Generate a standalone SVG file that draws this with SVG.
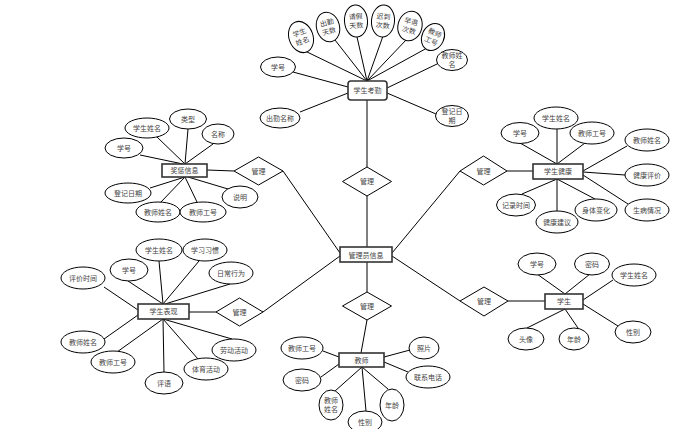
<svg xmlns="http://www.w3.org/2000/svg" width="694" height="429" viewBox="0 0 694 429">
<style>
.e{fill:#fff;stroke:#000;stroke-width:1}
.r{fill:#fff;stroke:#333;stroke-width:1.6}
.d{fill:#fff;stroke:#000;stroke-width:1}
.t{font-family:"Noto Sans CJK SC","Noto Sans",sans-serif;font-size:7px;fill:#444;text-anchor:middle}
.c line{stroke:#000;stroke-width:1}
</style>
<rect width="694" height="429" fill="#fff"/>
<g class="c" id="connectors">
<line x1="305" y1="51" x2="367" y2="81"/>
<line x1="335" y1="40" x2="367" y2="81"/>
<line x1="357" y1="37" x2="367" y2="81"/>
<line x1="383" y1="36" x2="367" y2="81"/>
<line x1="407" y1="39" x2="367" y2="81"/>
<line x1="427" y1="48" x2="367" y2="81"/>
<line x1="293" y1="72" x2="348" y2="87"/>
<line x1="300" y1="112" x2="348" y2="93"/>
<line x1="437" y1="64" x2="387" y2="88"/>
<line x1="436" y1="114" x2="387" y2="93"/>
<line x1="367" y1="100" x2="367" y2="167"/>
<line x1="367" y1="196" x2="367" y2="247"/>
<line x1="367" y1="262" x2="367" y2="292"/>
<line x1="283" y1="171" x2="340" y2="253"/>
<line x1="263" y1="312" x2="340" y2="256"/>
<line x1="460" y1="171" x2="392" y2="253"/>
<line x1="460" y1="301" x2="392" y2="256"/>
<line x1="367" y1="320" x2="361" y2="353"/>
<line x1="140" y1="155" x2="183" y2="164"/>
<line x1="157" y1="137" x2="185" y2="164"/>
<line x1="188" y1="129" x2="185" y2="164"/>
<line x1="213" y1="144" x2="185" y2="164"/>
<line x1="150" y1="188" x2="185" y2="177"/>
<line x1="160" y1="203" x2="185" y2="177"/>
<line x1="197" y1="202" x2="185" y2="177"/>
<line x1="228" y1="189" x2="188" y2="177"/>
<line x1="207" y1="170" x2="234" y2="171"/>
<line x1="520" y1="143" x2="557" y2="164"/>
<line x1="557" y1="129" x2="557" y2="164"/>
<line x1="585" y1="143" x2="557" y2="164"/>
<line x1="627" y1="146" x2="583" y2="171"/>
<line x1="625" y1="175" x2="583" y2="172"/>
<line x1="628" y1="204" x2="583" y2="175"/>
<line x1="522" y1="194" x2="557" y2="179"/>
<line x1="557" y1="179" x2="557" y2="211"/>
<line x1="595" y1="199" x2="557" y2="179"/>
<line x1="507" y1="171" x2="533" y2="171"/>
<line x1="159" y1="261" x2="163" y2="304"/>
<line x1="199" y1="261" x2="163" y2="304"/>
<line x1="128" y1="281" x2="163" y2="304"/>
<line x1="230" y1="284" x2="165" y2="304"/>
<line x1="104" y1="287" x2="138" y2="310"/>
<line x1="104" y1="339" x2="138" y2="315"/>
<line x1="117" y1="352" x2="163" y2="319"/>
<line x1="163" y1="319" x2="164" y2="372"/>
<line x1="198" y1="359" x2="163" y2="319"/>
<line x1="232" y1="339" x2="163" y2="319"/>
<line x1="189" y1="312" x2="216" y2="312"/>
<line x1="537" y1="274" x2="565" y2="294"/>
<line x1="590" y1="274" x2="565" y2="294"/>
<line x1="613" y1="280" x2="583" y2="300"/>
<line x1="618" y1="326" x2="583" y2="304"/>
<line x1="527" y1="328" x2="565" y2="309"/>
<line x1="578" y1="328" x2="565" y2="309"/>
<line x1="508" y1="301" x2="545" y2="301"/>
<line x1="323" y1="351" x2="339" y2="357"/>
<line x1="321" y1="377" x2="339" y2="364"/>
<line x1="335" y1="391" x2="362" y2="367"/>
<line x1="366" y1="411" x2="362" y2="367"/>
<line x1="388" y1="389" x2="362" y2="367"/>
<line x1="410" y1="350" x2="384" y2="357"/>
<line x1="408" y1="372" x2="384" y2="362"/>
</g>

<!-- central entity -->
<g id="admin"><rect class="r" x="340" y="247" width="52" height="15"/><text class="t" x="366" y="257.5">管理员信息</text></g>
<g id="rel-top"><polygon class="d" points="367,167 391.5,181.5 367,196 342.5,181.5"/><text class="t" x="367" y="184">管理</text></g>
<g id="rel-bottom"><polygon class="d" points="367,292 391.5,306 367,320 342.5,306"/><text class="t" x="367" y="308.5">管理</text></g>
<g id="rel-left-top"><polygon class="d" points="258.5,157 283,171 258.5,185 234,171"/><text class="t" x="258.5" y="173.5">管理</text></g>
<g id="rel-left-bottom"><polygon class="d" points="239.5,298 263,312 239.5,326 216,312"/><text class="t" x="239.5" y="314.5">管理</text></g>
<g id="rel-right-top"><polygon class="d" points="483.5,156 507,171 483.5,185 460,171"/><text class="t" x="483.5" y="173.5">管理</text></g>
<g id="rel-right-bottom"><polygon class="d" points="484,287 508,301 484,316 460,301"/><text class="t" x="484" y="303.5">管理</text></g>

<!-- 学生考勤 -->
<g id="attendance"><rect class="r" x="348" y="81" width="39" height="19" rx="3"/><text class="t" x="367.5" y="93">学生考勤</text></g>
<g id="att-name" transform="translate(301,37) rotate(-20)"><ellipse class="e" rx="12" ry="16"/><text class="t" y="-2">学生</text><text class="t" y="7">姓名</text></g>
<g id="att-days" transform="translate(328,27) rotate(-15)"><ellipse class="e" rx="11.5" ry="15"/><text class="t" y="-2">出勤</text><text class="t" y="7">天数</text></g>
<g id="att-leave" transform="translate(356,21) rotate(-4)"><ellipse class="e" rx="11.5" ry="16"/><text class="t" y="-2">请假</text><text class="t" y="7">天数</text></g>
<g id="att-late" transform="translate(383,21) rotate(5)"><ellipse class="e" rx="11.5" ry="16"/><text class="t" y="-2">迟到</text><text class="t" y="7">次数</text></g>
<g id="att-early" transform="translate(410,26) rotate(15)"><ellipse class="e" rx="12" ry="15"/><text class="t" y="-2">早退</text><text class="t" y="7">次数</text></g>
<g id="att-tno" transform="translate(433,37) rotate(25)"><ellipse class="e" rx="11" ry="14"/><text class="t" y="-2">教师</text><text class="t" y="7">工号</text></g>
<g id="att-sno"><ellipse class="e" cx="278" cy="67" rx="17.5" ry="10"/><text class="t" x="278" y="69.5">学号</text></g>
<g id="att-title"><ellipse class="e" cx="280" cy="118" rx="20" ry="10"/><text class="t" x="280" y="120.5">出勤名称</text></g>
<g id="att-tname"><ellipse class="e" cx="452" cy="60" rx="15.5" ry="10.5"/><text class="t" x="452" y="58">教师姓</text><text class="t" x="452" y="67">名</text></g>
<g id="att-date"><ellipse class="e" cx="452" cy="116" rx="16.5" ry="10.5"/><text class="t" x="452" y="114">登记日</text><text class="t" x="452" y="123">期</text></g>

<!-- 奖惩信息 -->
<g id="reward"><rect class="r" x="162" y="164" width="45" height="13"/><text class="t" x="184.5" y="173">奖惩信息</text></g>
<g id="rw-name"><ellipse class="e" cx="147" cy="128" rx="22" ry="10"/><text class="t" x="147" y="130.5">学生姓名</text></g>
<g id="rw-type"><ellipse class="e" cx="188" cy="119" rx="18.5" ry="10"/><text class="t" x="188" y="121.5">类型</text></g>
<g id="rw-title"><ellipse class="e" cx="218" cy="134" rx="16" ry="10"/><text class="t" x="218" y="136.5">名称</text></g>
<g id="rw-sno"><ellipse class="e" cx="124" cy="148" rx="19" ry="10"/><text class="t" x="124" y="150.5">学号</text></g>
<g id="rw-date"><ellipse class="e" cx="128" cy="193" rx="23" ry="10"/><text class="t" x="128" y="195.5">登记日期</text></g>
<g id="rw-tname"><ellipse class="e" cx="158" cy="212" rx="22" ry="10"/><text class="t" x="158" y="214.5">教师姓名</text></g>
<g id="rw-tno"><ellipse class="e" cx="203" cy="212" rx="23" ry="10"/><text class="t" x="203" y="214.5">教师工号</text></g>
<g id="rw-desc"><ellipse class="e" cx="240" cy="197" rx="18" ry="11"/><text class="t" x="240" y="199.5">说明</text></g>

<!-- 学生健康 -->
<g id="health"><rect class="r" x="533" y="164" width="50" height="15"/><text class="t" x="558" y="174">学生健康</text></g>
<g id="h-sno"><ellipse class="e" cx="520" cy="133" rx="19" ry="10.5"/><text class="t" x="520" y="135.5">学号</text></g>
<g id="h-name"><ellipse class="e" cx="556" cy="118" rx="22" ry="11"/><text class="t" x="556" y="120.5">学生姓名</text></g>
<g id="h-tno"><ellipse class="e" cx="592" cy="133" rx="22" ry="11"/><text class="t" x="592" y="135.5">教师工号</text></g>
<g id="h-tname"><ellipse class="e" cx="647" cy="140" rx="22" ry="11"/><text class="t" x="647" y="142.5">教师姓名</text></g>
<g id="h-eval"><ellipse class="e" cx="647" cy="175" rx="22" ry="11"/><text class="t" x="647" y="177.5">健康评价</text></g>
<g id="h-sick"><ellipse class="e" cx="647" cy="210" rx="22" ry="11"/><text class="t" x="647" y="212.5">生病情况</text></g>
<g id="h-time"><ellipse class="e" cx="516" cy="205" rx="19.5" ry="11"/><text class="t" x="516" y="207.5">记录时间</text></g>
<g id="h-advice"><ellipse class="e" cx="557" cy="222" rx="21" ry="11"/><text class="t" x="557" y="224.5">健康建议</text></g>
<g id="h-change"><ellipse class="e" cx="596" cy="210" rx="21" ry="11"/><text class="t" x="596" y="212.5">身体变化</text></g>

<!-- 学生表现 -->
<g id="perf"><rect class="r" x="138" y="304" width="51" height="15"/><text class="t" x="163.5" y="314">学生表现</text></g>
<g id="p-name"><ellipse class="e" cx="159" cy="250" rx="23" ry="11"/><text class="t" x="159" y="252.5">学生姓名</text></g>
<g id="p-habit"><ellipse class="e" cx="205" cy="250" rx="22" ry="11"/><text class="t" x="205" y="252.5">学习习惯</text></g>
<g id="p-sno"><ellipse class="e" cx="129" cy="270" rx="19" ry="11"/><text class="t" x="129" y="272.5">学号</text></g>
<g id="p-daily"><ellipse class="e" cx="231" cy="273" rx="22" ry="11"/><text class="t" x="231" y="275.5">日常行为</text></g>
<g id="p-time"><ellipse class="e" cx="83" cy="278" rx="22" ry="11"/><text class="t" x="83" y="280.5">评价时间</text></g>
<g id="p-tname"><ellipse class="e" cx="83" cy="342" rx="22" ry="11"/><text class="t" x="83" y="344.5">教师姓名</text></g>
<g id="p-tno"><ellipse class="e" cx="113" cy="362" rx="22" ry="11"/><text class="t" x="113" y="364.5">教师工号</text></g>
<g id="p-comment"><ellipse class="e" cx="164" cy="383" rx="19" ry="11"/><text class="t" x="164" y="385.5">评语</text></g>
<g id="p-sport"><ellipse class="e" cx="206" cy="369" rx="22" ry="11"/><text class="t" x="206" y="371.5">体育活动</text></g>
<g id="p-labor"><ellipse class="e" cx="234" cy="350" rx="22" ry="11"/><text class="t" x="234" y="352.5">劳动活动</text></g>

<!-- 学生 -->
<g id="student"><rect class="r" x="545" y="294" width="38" height="15"/><text class="t" x="564" y="304">学生</text></g>
<g id="s-sno"><ellipse class="e" cx="537" cy="264" rx="19" ry="11"/><text class="t" x="537" y="266.5">学号</text></g>
<g id="s-pwd"><ellipse class="e" cx="592" cy="264" rx="17.5" ry="11"/><text class="t" x="592" y="266.5">密码</text></g>
<g id="s-name"><ellipse class="e" cx="634" cy="275" rx="22" ry="11"/><text class="t" x="634" y="277.5">学生姓名</text></g>
<g id="s-sex"><ellipse class="e" cx="633" cy="332" rx="18" ry="11"/><text class="t" x="633" y="334.5">性别</text></g>
<g id="s-avatar"><ellipse class="e" cx="526" cy="339" rx="18" ry="11"/><text class="t" x="526" y="341.5">头像</text></g>
<g id="s-age"><ellipse class="e" cx="574" cy="339" rx="15" ry="11"/><text class="t" x="574" y="341.5">年龄</text></g>

<!-- 教师 -->
<g id="teacher"><rect class="r" x="339" y="353" width="45" height="14"/><text class="t" x="361.5" y="362.5">教师</text></g>
<g id="t-tno"><ellipse class="e" cx="302" cy="348" rx="21" ry="11"/><text class="t" x="302" y="350.5">教师工号</text></g>
<g id="t-pwd"><ellipse class="e" cx="302" cy="380" rx="19" ry="11"/><text class="t" x="302" y="382.5">密码</text></g>
<g id="t-name"><ellipse class="e" cx="331" cy="405" rx="12" ry="15"/><text class="t" x="331" y="403">教师</text><text class="t" x="331" y="412">姓名</text></g>
<g id="t-sex"><ellipse class="e" cx="365" cy="422" rx="17" ry="11"/><text class="t" x="365" y="424.5">性别</text></g>
<g id="t-age"><ellipse class="e" cx="392" cy="405" rx="12" ry="16"/><text class="t" x="392" y="407.5">年龄</text></g>
<g id="t-photo"><ellipse class="e" cx="424" cy="348" rx="15" ry="11"/><text class="t" x="424" y="350.5">照片</text></g>
<g id="t-phone"><ellipse class="e" cx="428" cy="377" rx="22" ry="11"/><text class="t" x="428" y="379.5">联系电话</text></g>
</svg>
